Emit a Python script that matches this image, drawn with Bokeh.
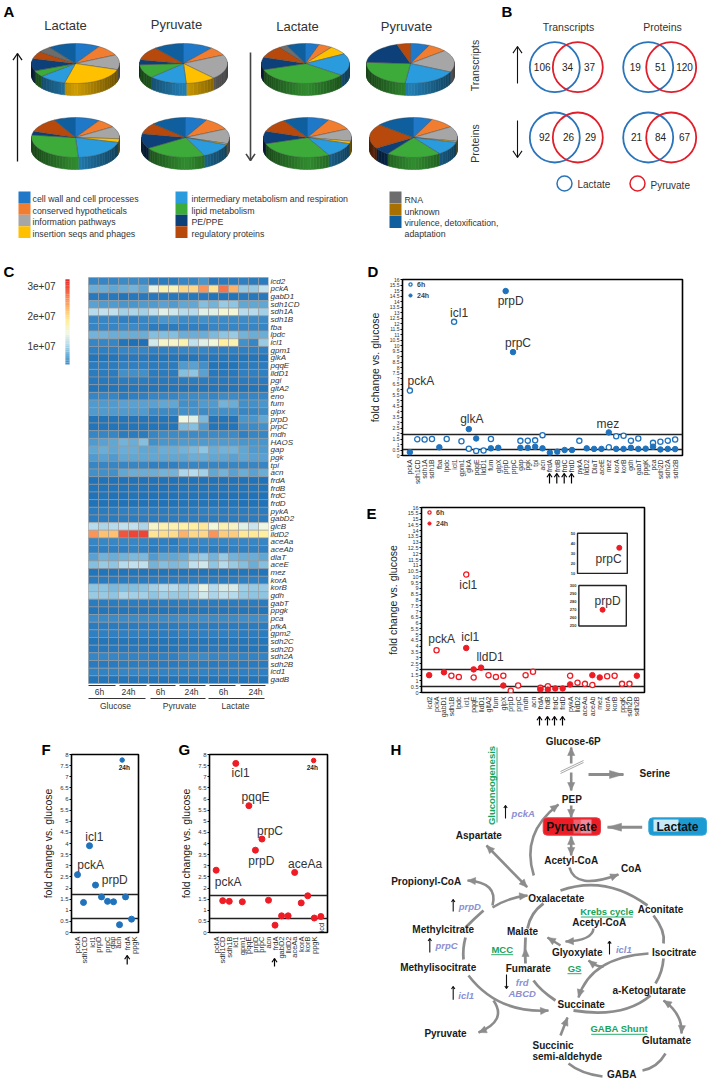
import numpy as np
from math import pi, sin, cos, atan2
from bokeh.plotting import figure
from bokeh.layouts import column, row
from bokeh.embed import file_html
from bokeh.resources import INLINE
from bokeh.core.properties import value
from bokeh.models import (Range1d, FactorRange, FixedTicker, NumeralTickFormatter, Legend, LegendItem,
                          LinearColorMapper, ColumnDataSource)

FONT = "Liberation Sans"

# ---------------------------------------------------------------- panel A data
pie_categories = ["cell wall and cell processes", "conserved hypotheticals", "information pathways",
                  "insertion seqs and phages", "intermediary metabolism and respiration", "lipid metabolism",
                  "PE/PPE", "regulatory proteins", "RNA", "unknown", "virulence, detoxification,"]
pie_colors = ["#1f78c8", "#f07d30", "#a6a6a6", "#ffc000", "#2a9bdc", "#3cab3a", "#0d3f78", "#b8490c", "#6d6d6d", "#a87000", "#0f5f9e"]
pie_lac_up_tr = [9, 9, 12, 24, 10, 5, 10, 6, 5, 0, 10]
pie_pyr_up_tr = [11, 7, 20, 11, 14, 11, 4, 11, 0, 0, 11]
pie_lac_dn_tr = [5, 5, 0, 7, 18, 35, 10, 10, 3, 0, 7]
pie_pyr_dn_tr = [7, 7, 18, 0, 20, 24, 19, 5, 0, 0, 0]
pie_lac_up_pr = [9, 7, 10, 3, 20, 28, 3, 12, 0, 0, 8]
pie_pyr_up_pr = [8, 10, 12, 1, 12, 23, 12, 9, 0, 0, 13]
pie_lac_dn_pr = [8, 10, 10, 2, 12, 28, 10, 11, 0, 0, 9]
pie_pyr_dn_pr = [7, 9, 12, 1, 11, 20, 6, 20, 0, 0, 14]

# ---------------------------------------------------------------- panel B data
venn_numbers = [["106", "34", "37"], ["19", "51", "120"], ["92", "26", "29"], ["21", "84", "67"]]

# ---------------------------------------------------------------- panel C data
heat_genes = ["icd2","pckA","gabD1","sdh1CD","sdh1A","sdh1B","fba","lpdc","icl1","gpm1","glkA","pqqE","lldD1","pgi","gltA2",
              "eno","fum","glpx","prpD","prpC","mdh","HAOS","gap","pgk","tpi","acn","frdA","frdB","frdC","frdD","pykA","gabD2",
              "glcB","lldD2","aceAa","aceAb","dlaT","aceE","mez","korA","korB","gdh","gabT","ppgk","pca","pfkA","gpm2","sdh2C",
              "sdh2D","sdh2A","sdh2B","icd1","gadB"]
heat_values = [
 [.3,.3,.3,.35,.35,.35,.2,.2,.2,.3,.3,.45,.15,.2,.2,.25,.2,.2],
 [.65,.65,.6,.65,.7,.6,1.35,1.7,1.65,2.0,2.0,2.5,1.9,2.7,2.3,.9,.9,1.1],
 [.15,.15,.15,.1,.15,.15,.15,.15,.15,.15,.15,.15,.1,.1,.1,.15,.15,.15],
 [.55,.5,.5,.45,.45,.5,.5,.55,.5,.6,.6,.8,.7,.9,.85,.6,.6,.6],
 [1.05,1.1,1.1,.95,1.0,.95,1.1,1.3,1.2,1.05,1.05,1.3,1.3,1.5,1.5,1.05,1.05,.95],
 [.3,.3,.3,.25,.25,.3,.35,.45,.45,.35,.35,.4,.35,.35,.35,.35,.35,.35],
 [.3,.3,.3,.35,.35,.3,.2,.2,.2,.25,.25,.25,.3,.3,.3,.3,.3,.3],
 [.7,.7,.65,.65,.65,.65,.8,.8,.8,.65,.65,.65,.75,.85,.9,.7,.65,.65],
 [.3,.3,.3,.1,.05,.05,1.2,1.55,1.55,1.7,1.1,1.3,1.45,1.8,1.7,.4,.3,.9],
 [.25,.25,.25,.3,.3,.3,.25,.25,.25,.3,.3,.3,.25,.25,.25,.25,.25,.25],
 [.1,.1,.1,.15,.15,.15,.1,.1,.1,.1,.1,.15,.12,.12,.12,.1,.1,.1],
 [.2,.2,.2,.25,.25,.25,.2,.2,.2,.5,.55,.4,.1,.1,.1,.2,.2,.2],
 [.2,.2,.2,.4,.4,.4,.2,.2,.2,.8,.85,.55,.15,.15,.15,.25,.25,.25],
 [.15,.15,.15,.2,.2,.2,.15,.15,.15,.2,.2,.2,.15,.15,.15,.18,.18,.18],
 [.1,.1,.1,.12,.12,.12,.1,.1,.1,.1,.1,.12,.1,.1,.1,.1,.1,.1],
 [.3,.3,.3,.2,.25,.25,.3,.3,.3,.35,.35,.35,.3,.35,.35,.3,.3,.3],
 [.5,.5,.5,.55,.55,.55,.55,.6,.6,.4,.4,.5,.5,.7,.65,.4,.4,.45],
 [.5,.5,.5,.5,.5,.5,.35,.35,.35,.4,.4,.35,.4,.4,.4,.3,.3,.35],
 [.1,.1,.1,.1,.1,.1,.1,.1,.1,1.4,1.3,.75,.1,.1,.1,.45,.45,.6],
 [.1,.1,.1,.1,.1,.1,.1,.1,.1,.75,.8,.5,.1,.1,.1,.35,.35,.4],
 [.3,.3,.3,.2,.2,.2,.3,.35,.35,.35,.35,.35,.35,.35,.35,.25,.3,.3],
 [.5,.55,.6,.7,.65,.8,.4,.45,.45,.5,.5,.5,.5,.5,.5,.45,.45,.45],
 [.6,.65,.6,.65,.65,.6,.6,.65,.65,.7,.75,.85,.65,.7,.7,.6,.5,.5],
 [.5,.55,.5,.6,.6,.6,.6,.6,.6,.6,.65,.65,.6,.6,.55,.6,.55,.55],
 [.3,.3,.3,.3,.3,.3,.25,.25,.25,.3,.3,.3,.3,.3,.3,.3,.3,.3],
 [.4,.4,.4,.6,.65,.65,.65,.7,.7,1.0,1.05,.95,.6,.7,.55,.65,.55,.65],
 [.08,.08,.08,.08,.08,.08,.08,.08,.08,.08,.08,.08,.08,.08,.08,.08,.08,.08],
 [.1,.1,.1,.1,.1,.1,.08,.08,.08,.1,.1,.1,.1,.1,.1,.1,.1,.1],
 [.08,.1,.08,.08,.1,.08,.08,.08,.08,.1,.1,.1,.08,.08,.08,.08,.08,.08],
 [.08,.08,.08,.08,.08,.08,.08,.08,.08,.1,.1,.1,.1,.1,.1,.08,.08,.08],
 [.2,.2,.2,.25,.25,.25,.2,.2,.2,.2,.2,.25,.25,.2,.2,.2,.2,.2],
 [.22,.22,.2,.22,.22,.22,.2,.2,.2,.22,.22,.22,.2,.2,.2,.2,.2,.2],
 [1.05,1.0,1.05,1.1,1.1,1.0,1.55,1.7,1.7,1.75,1.8,1.85,1.45,1.7,1.6,1.3,1.15,1.4],
 [2.5,2.2,2.2,2.9,3.0,3.0,1.9,1.95,1.95,2.3,2.0,2.0,2.5,2.1,2.1,1.85,1.85,1.8],
 [.3,.32,.32,.32,.32,.3,.25,.25,.2,.3,.3,.32,.3,.3,.3,.3,.3,.3],
 [.25,.25,.25,.25,.28,.25,.2,.25,.25,.25,.25,.25,.22,.22,.25,.25,.25,.25],
 [.55,.7,.65,.7,.75,.75,.5,.6,.6,.65,.85,.9,.7,.9,.7,.65,.65,.6],
 [.8,.9,.85,1.05,1.1,1.1,.7,.8,.75,.8,1.1,1.2,.85,1.05,.9,.8,.65,.8],
 [.1,.1,.1,.1,.12,.1,.1,.1,.1,.1,.1,.1,.1,.1,.1,.12,.12,.1],
 [.2,.2,.2,.2,.2,.2,.2,.2,.2,.22,.22,.22,.2,.2,.2,.25,.25,.25],
 [.85,.85,.75,.8,.8,.85,.95,1.05,1.05,.95,1.05,1.35,1.05,1.25,1.25,.95,.9,.9],
 [.9,.9,.85,1.0,.95,.95,.85,.95,.9,.9,1.0,1.2,1.0,1.1,1.05,.9,.85,.85],
 [.2,.2,.2,.22,.22,.2,.2,.2,.2,.22,.22,.22,.2,.2,.2,.2,.2,.2],
 [.12,.12,.12,.12,.12,.12,.1,.1,.1,.12,.12,.12,.12,.12,.12,.12,.12,.1],
 [.35,.35,.35,.35,.35,.35,.35,.35,.35,.38,.38,.38,.35,.35,.35,.38,.38,.38],
 [.2,.2,.2,.2,.2,.2,.2,.2,.2,.22,.22,.22,.2,.2,.2,.2,.2,.2],
 [.25,.25,.25,.25,.25,.25,.22,.22,.22,.25,.25,.25,.25,.25,.25,.22,.22,.22],
 [.12,.12,.12,.12,.12,.12,.1,.1,.1,.12,.12,.12,.12,.12,.12,.12,.12,.12],
 [.15,.15,.15,.15,.15,.15,.12,.12,.12,.15,.15,.15,.15,.15,.15,.12,.12,.12],
 [.3,.3,.3,.28,.28,.28,.25,.25,.25,.32,.35,.35,.3,.3,.3,.28,.28,.28],
 [.18,.18,.18,.22,.22,.22,.18,.18,.18,.2,.2,.2,.18,.18,.18,.18,.18,.18],
 [.28,.28,.28,.3,.3,.3,.28,.28,.28,.28,.28,.28,.25,.25,.25,.25,.25,.25],
 [.1,.1,.1,.12,.12,.12,.1,.1,.1,.12,.12,.12,.1,.1,.1,.1,.1,.1],
]
heat_anchor_vals = [0, .25, .5, .8, 1.1, 1.4, 1.8, 2.2, 2.6, 3.2]
heat_anchor_cols = ["#1a6db3", "#2f80c2", "#4f9bcf", "#84bfdf", "#bfe0ee", "#eef8e4", "#fff0a0", "#fdc272", "#f98650", "#e8262a"]
colorbar_ticks = ["3e+07", "2e+07", "1e+07"]

# ---------------------------------------------------------------- panel D data
d_genes = ["pckA","sdh1CD","sdh1A","sdh1B","fba","lpdc","icl1","gpm1","glkA","pqqE","lldD1","fum","glpX","prpD","prpC","gap","pgk",
           "tpi","acn","frdA","frdB","frdC","frdD","pykA","lldD2","DlaT","aceE","mez","korA","korB","gdh","gabT","ppgK","pca",
           "sdh2D","sdh2A","sdh2B"]
d_6h_names = ["pckA","sdh1CD","sdh1A","sdh1B","lpdc","icl1","gpm1","glkA","pqqE","lldD1","fum","gap","pgk","tpi","acn","pykA","mez",
              "korA","korB","gdh","gabT","pca","sdh2D","sdh2A","sdh2B"]
d_6h_vals = [5.9,1.48,1.45,1.5,1.5,12.15,1.3,.62,.42,.45,1.5,1.33,1.35,1.38,1.85,1.33,.75,1.75,1.8,1.35,1.55,1.15,1.25,1.35,1.45]
d_24h_names = ["pckA","fba","glkA","pqqE","fum","glpX","prpD","prpC","gap","pgk","tpi","acn","frdA","frdB","frdC","frdD","lldD2","DlaT",
               "aceE","mez","korA","korB","gdh","gabT","ppgK","pca","sdh2D","sdh2A","sdh2B"]
d_24h_vals = [.3,.75,2.4,1.55,.65,.7,14.95,9.4,.7,.7,.8,.65,.25,.35,.5,.5,.65,.6,.6,2.1,.6,.6,.7,.6,.62,.8,.55,.6,.58]
d_lines = [1.95, .55]
d_note_names = ["pckA","icl1","prpD","prpC","glkA","mez"]
d_note_y = [6.8,13.0,14.05,10.25,3.3,2.87]

# ---------------------------------------------------------------- panel E data
e_genes = ["icd2","pckA","gabD1","sdh1B","lpdc","icl1","pqqE","lldD1","gltA2","fum","glpX","prpD","prpC","mdh","acn","frdA","frdB",
           "frdC","frdD","pykA","lldD2","aceAa","aceAb","mez","korA","korB","ppgK","sdh2D","sdh2B"]
e_6h_names = ["pckA","sdh1B","lpdc","icl1","pqqE","gltA2","fum","glpX","prpD","prpC","mdh","acn","frdA","frdB","pykA","lldD2","aceAa",
              "aceAb","korA","korB","ppgK","sdh2D"]
e_6h_vals = [3.65,1.45,1.35,10.2,1.3,1.5,1.35,1.45,.15,.6,1.5,1.8,.4,.55,1.45,.85,.75,.65,1.4,1.45,.75,.75]
e_24h_names = ["icd2","gabD1","icl1","pqqE","lldD1","glpX","frdA","frdB","frdC","frdD","pykA","aceAb","mez","sdh2B"]
e_24h_vals = [1.5,1.75,3.85,2.0,2.15,.6,.25,.25,.35,.35,.7,1.5,1.3,1.45]
e_lines = [2.0, .55]
e_prpC_ticks = [50,40,30,20,10]
e_prpD_ticks = [300,290,280,270,260,250]
e_prpC_val = 35.5
e_prpD_val = 270

# ---------------------------------------------------------------- panel F data
f_ticks_labels = ["pckA","sdh1CD","icl1","prpD","prpC","gap","acn","frdA","ppgK"]
f_vals = [2.6,1.35,3.9,2.13,1.6,1.4,1.38,.35,1.6,.6]
f_lines = [1.69,.62]

# ---------------------------------------------------------------- panel G data
g_genes = ["pckA","sdh1CD","sdh1B","icl1","gpm1","pqqE","prpD","prpC","acn","frdA","gabD2","lldD2","aceAa","korA","korB","ppgK"," "]
g_vals = [2.8,1.43,1.4,7.6,1.38,5.7,3.7,4.2,1.45,.33,.75,.75,2.7,1.33,1.65,.65,.72]
g_lines = [1.65,.63]


def lum(hexcol, f):
    r, g, b = int(hexcol[1:3], 16), int(hexcol[3:5], 16), int(hexcol[5:7], 16)
    return "#%02x%02x%02x" % (int(r * f), int(g * f), int(b * f))


def put(p, x, y, t, size="9px", color="#222222", style="normal", align="center", angle=0.0, **kw):
    p.text(x=[x], y=[y], text=[t], text_font=value(FONT), text_font_size=size, text_color=color,
           text_font_style=style, text_align=align, text_baseline="middle", angle=angle, **kw)


def blank(w, h, x0, x1, y0, y1):
    p = figure(width=w, height=h, x_range=Range1d(x0, x1), y_range=Range1d(y0, y1), output_backend="svg",
               toolbar_location=None, min_border=0, x_axis_location=None, y_axis_location=None,
               background_fill_color="white", border_fill_color="white")
    p.grid.visible = False
    p.outline_line_color = None
    return p


def open_arrow(p, x0, y0, x1, y1, w=1.3, color="#111111", head=4.5):
    a = atan2(y1 - y0, x1 - x0)
    p.line([x0, x1], [y0, y1], line_color=color, line_width=w)
    p.line([x1 - head * cos(a - .6), x1, x1 - head * cos(a + .6)],
           [y1 - head * sin(a - .6), y1, y1 - head * sin(a + .6)], line_color=color, line_width=w)


# ---------------------------------------------------------------- top figure : A + B
top = blank(709, 255, 0, 709, 255, 0)
put(top, 3, 11, "A", "15px", "black", "bold", "left")
put(top, 501, 11, "B", "15px", "black", "bold", "left")
for x, y, t in [(65, 25, "Lactate"), (176, 24, "Pyruvate"), (297, 26, "Lactate"), (406, 26, "Pyruvate")]:
    put(top, x, y, t, "13px", "#333333")


def pie(p, cx, cy, vals, rx=44, ry=20, depth=12):
    vals = np.array(vals, float)
    fracs = vals / vals.sum()
    a0 = 0.0
    xs, ys, cols, sx, sy, sc = [], [], [], [], [], []
    for f, c in zip(fracs, pie_colors):
        if f == 0:
            continue
        a1 = a0 + f * 2 * pi
        arc = np.linspace(a0, a1, max(3, int(f * 90)))
        xs.append([cx] + list(cx + rx * np.sin(arc)))
        ys.append([cy] + list(cy - ry * np.cos(arc)))
        cols.append(c)
        for u, v in zip(arc[:-1], arc[1:]):
            if cos(u) < 0.02 or cos(v) < 0.02:
                u2, v2 = cx + rx * sin(u), cx + rx * sin(v)
                w2, z2 = cy - ry * cos(u), cy - ry * cos(v)
                sx.append([u2, v2, v2, u2])
                sy.append([w2, z2, z2 + depth, w2 + depth])
                t = abs(sin((u + v) / 2))
                sc.append(lum(c, 0.82 - 0.42 * t))
        a0 = a1
    p.patches(sx, sy, fill_color=sc, line_color=sc, line_width=.6)
    p.patches(xs, ys, fill_color=cols, line_color="#404040", line_width=.4)


for cx, cy, v in [(75, 63, pie_lac_up_tr), (183, 63, pie_pyr_up_tr), (305, 63, pie_lac_dn_tr), (410, 63, pie_pyr_dn_tr),
                  (75, 137, pie_lac_up_pr), (185, 137, pie_pyr_up_pr), (307, 137, pie_lac_dn_pr), (413, 137, pie_pyr_dn_pr)]:
    pie(top, cx, cy, v)

open_arrow(top, 17, 161, 17, 53, 1.3, "#111111", 8)
open_arrow(top, 250, 52, 250, 160, 1.6, "#444444", 8)

box_y = [197, 208.6, 220.2, 231.8]
for col, (bx, tx) in enumerate([(18, 32), (175, 191)]):
    for i in range(4):
        k = col * 4 + i
        top.quad(left=[bx], right=[bx + 12], top=[box_y[i] - 6], bottom=[box_y[i] + 5.6], fill_color=pie_colors[k], line_color=None)
        put(top, tx, box_y[i] + 1.5, pie_categories[k], "8.8px", "#333333", align="left")
for i, k in enumerate([8, 9, 10]):
    top.quad(left=[389], right=[401], top=[196 + i * 12.2 - 6 + 1], bottom=[196 + i * 12.2 + 6 + 1], fill_color=pie_colors[k], line_color=None)
for y, t in [(199.5, "RNA"), (211, "unknown"), (222, "virulence, detoxification,"), (233, "adaptation")]:
    put(top, 404, y, t, "8.8px", "#333333", align="left")

put(top, 568, 26, "Transcripts", "10.5px", "#333333")
put(top, 662, 26, "Proteins", "10.5px", "#333333")
put(top, 474, 65, "Transcripts", "10.5px", "#333333", angle=pi / 2)
put(top, 474, 143, "Proteins", "10.5px", "#333333", angle=pi / 2)
BLUE, RED = "#2a74bb", "#e01f2b"
venn_x = [(554.3, 577.3), (647.7, 670.7), (554.3, 577.3), (647.7, 670.7)]
venn_y = [66.7, 66.7, 137, 137]
venn_tx = [(541.7, 567, 589), (634.7, 660, 684), (544, 568, 590), (636, 660, 684)]
for (bx, rx), vy, nums, tx in zip(venn_x, venn_y, venn_numbers, venn_tx):
    top.ellipse(x=[bx], y=[vy], width=50, height=50, fill_color=None, line_color=BLUE, line_width=1.8)
    top.ellipse(x=[rx], y=[vy], width=50, height=50, fill_color=None, line_color=RED, line_width=1.8)
    for n, x in zip(nums, tx):
        put(top, x, vy - .5, n, "10px", "#222222")
open_arrow(top, 517, 83, 517, 46, 1.1, "#111111", 8)
open_arrow(top, 517, 120, 517, 157, 1.1, "#111111", 8)
top.ellipse(x=[564], y=[183], width=15, height=15, fill_color=None, line_color=BLUE, line_width=1.5)
top.ellipse(x=[637], y=[183], width=15, height=15, fill_color=None, line_color=RED, line_width=1.5)
put(top, 577, 184, "Lactate", "10px", "#333333", align="left")
put(top, 650, 184.5, "Pyruvate", "10px", "#333333", align="left")

# ---------------------------------------------------------------- C : heat map
ROW = 7.66
hx = lambda px: (px - 88) / 10.0
hy = lambda py: 53 - (py - 277) / ROW
cv = lambda py: 1 + (345 - py) / 30.0
c = figure(width=362, height=475, x_range=Range1d(hx(0), hx(268)), y_range=Range1d(hy(730), hy(255)), output_backend="svg",
           toolbar_location=None, min_border=0, min_border_right=94, x_axis_location=None, y_axis_location="right",
           background_fill_color="white", border_fill_color="white")
c.grid.visible = False
c.outline_line_color = None
c.extra_y_ranges = {"cb": Range1d(cv(730), cv(255))}
palette = []
grid = np.linspace(0, 3.2, 256)
av = np.array(heat_anchor_vals)
rgb = np.array([[int(h[i:i + 2], 16) for i in (1, 3, 5)] for h in heat_anchor_cols], float)
for g in grid:
    palette.append("#%02x%02x%02x" % tuple(int(round(np.interp(g, av, rgb[:, j]))) for j in range(3)))
mapper = LinearColorMapper(palette=palette, low=0, high=3.2)
xs_, ys_, vs_ = [], [], []
n = len(heat_genes)
for i, r in enumerate(heat_values):
    for j, v in enumerate(r):
        xs_.append(j + .5)
        ys_.append(n - i - .5)
        vs_.append(v)
c.rect(x="x", y="y", width=1, height=1, source=ColumnDataSource(dict(x=xs_, y=ys_, v=vs_)),
       fill_color={"field": "v", "transform": mapper}, line_color="#9a9a9a", line_width=.6)
ax = c.yaxis[0]
ticks = [n - i - .5 for i in range(n)]
ax.ticker = FixedTicker(ticks=ticks)
ax.major_label_overrides = {t: g for t, g in zip(ticks, heat_genes)}
ax.major_label_text_font = FONT
ax.major_label_text_font_style = "italic"
ax.major_label_text_font_size = "8px"
ax.major_label_text_color = "#333333"
ax.axis_line_color = None
ax.major_tick_line_color = None
ax.major_tick_out = 0
ax.major_tick_in = 0
ax.minor_tick_line_color = None
ax.major_label_standoff = 2
cb_vals = np.linspace(.4, 3.17, 40)
c.rect(x=[hx(67)] * len(cb_vals), y=cb_vals, width=.42, height=(cb_vals[1] - cb_vals[0]) * 1.05, y_range_name="cb",
       fill_color={"field": "y", "transform": mapper}, line_color=None)
for i, t in enumerate(colorbar_ticks):
    c.text(x=[hx(55)], y=[3 - i], text=[t], y_range_name="cb", text_font=value(FONT), text_font_size="10px", text_color="#333333",
           text_align="right", text_baseline="middle")
put(c, hx(3), hy(271), "C", "15px", "black", "bold", "left")
for a, b, t, tx in [(88, 115, "6h", 99), (119, 146, "24h", 128), (149, 175, "6h", 160), (179, 205, "24h", 191), (209, 235, "6h", 223), (240, 265, "24h", 255)]:
    c.line([hx(a), hx(b)], [hy(685)] * 2, line_color="#333333", line_width=1.2)
    put(c, hx(tx), hy(691.5), t, "8.5px", "#333333")
for a, b, t, tx in [(88, 145, "Glucose", 115), (150, 205, "Pyruvate", 179), (208, 264, "Lactate", 235)]:
    c.line([hx(a), hx(b)], [hy(698)] * 2, line_color="#333333", line_width=1.2)
    put(c, hx(tx), hy(705), t, "8.5px", "#333333")


# ---------------------------------------------------------------- dot panels
def dot_fig(w, h, left, right, top_, bottom, x_range, ymax, tick_font, xfont, lab_off=6):
    p = figure(width=w, height=h, x_range=x_range, y_range=Range1d(0, ymax), output_backend="svg", toolbar_location=None,
               min_border_left=left, min_border_right=right, min_border_top=top_, min_border_bottom=bottom,
               background_fill_color="white", border_fill_color="white")
    p.grid.visible = False
    p.outline_line_color = "black"
    p.outline_line_width = 1.6
    y = p.yaxis[0]
    y.ticker = FixedTicker(ticks=list(np.arange(0, ymax + .1, .5)))
    y.formatter = NumeralTickFormatter(format="0.[0]")
    y.major_label_text_font = FONT
    y.major_label_text_font_size = tick_font
    y.major_label_text_color = "#333333"
    y.major_tick_out = 2
    y.major_tick_in = 0
    y.major_label_standoff = 1
    y.minor_tick_line_color = None
    y.axis_label = "fold change vs. glucose"
    y.axis_label_text_font = FONT
    y.axis_label_text_font_size = "10.5px"
    y.axis_label_text_font_style = "normal"
    y.axis_label_text_color = "#222222"
    y.axis_label_standoff = lab_off
    x = p.xaxis[0]
    x.major_label_orientation = pi / 2
    x.major_label_text_font = FONT
    x.major_label_text_font_size = xfont
    x.major_label_text_color = "#333333"
    x.major_tick_line_color = None
    x.major_tick_out = 0
    x.major_tick_in = 0
    x.minor_tick_line_color = None
    x.axis_line_color = None
    x.major_label_standoff = 4
    return p


def dot_legend(p, r1, r2):
    p.add_layout(Legend(items=[LegendItem(label="6h", renderers=[r1]), LegendItem(label="24h", renderers=[r2])], location="top_left",
                        border_line_color=None, background_fill_alpha=0, label_text_font=FONT, label_text_font_size="7px",
                        label_text_font_style="bold", padding=1, spacing=3, glyph_width=14, glyph_height=8, label_height=8,
                        label_standoff=0, margin=1))


C_BLUE, C_RED = "#1f72bc", "#ee1c25"

# D
d = dot_fig(347, 242, 40, 27, 24, 42, FactorRange(factors=d_genes, range_padding=.5, range_padding_units="absolute"), 16, "5px", "6.8px")
d.hspan(y=d_lines, line_color="#222222", line_width=1.5)
r1 = d.scatter(d_6h_names, d_6h_vals, marker="circle", size=5.2, fill_color="white", line_color=C_BLUE, line_width=1.3)
r2 = d.scatter(d_24h_names, d_24h_vals, marker="circle", size=5.5, fill_color=C_BLUE, line_color=C_BLUE)
dot_legend(d, r1, r2)
d.text(x=d_note_names, y=d_note_y, text=d_note_names, x_offset=[11, 5, 5, 5, 3, -1], text_font=value(FONT), text_font_size="12px",
       text_color="#333333", text_align="center", text_baseline="middle")

# E
e = dot_fig(347, 231, 59, 65, 10, 36, FactorRange(factors=e_genes, range_padding=.53, range_padding_units="absolute"), 16, "5.5px", "7px")
ex = lambda zx: (zx - 176) / 22.2 + .5
ezy = lambda zy, z0, v0, k: v0 + (z0 - zy) / k
e.extra_y_ranges = {"prpC": Range1d(ezy(575, 219, 10, 3.0), ezy(22, 219, 10, 3.0)), "prpD": Range1d(ezy(575, 376, 250, 2.42), ezy(22, 376, 250, 2.42))}
e.hspan(y=e_lines, line_color="#222222", line_width=1.5)
r1 = e.scatter(e_6h_names, e_6h_vals, marker="circle", size=5.2, fill_color="white", line_color=C_RED, line_width=1.3)
r2 = e.scatter(e_24h_names, e_24h_vals, marker="circle", size=5.5, fill_color=C_RED, line_color=C_RED)
dot_legend(e, r1, r2)
for name, y, off in [("pckA", 4.6, 5), ("icl1", 9.3, 2), ("icl1", 4.77, 4), ("lldD1", 3.04, 9)]:
    e.text(x=[name], y=[y], text=[name], x_offset=off, text_font=value(FONT), text_font_size="12px", text_color="#333333",
           text_align="center", text_baseline="middle")
for rng, lo, hi, zl, zr, ticks_, val, zpt, lab, zlab, zy in [
        ("prpC", 10, 50, 620, 769, e_prpC_ticks, e_prpC_val, 745, "prpC", 713, ezy(175, 219, 10, 3.0)),
        ("prpD", 250, 300, 624, 766, e_prpD_ticks, e_prpD_val, 695, "prpD", 710, ezy(300, 376, 250, 2.42))]:
    e.quad(left=[ex(zl)], right=[ex(zr)], bottom=[lo], top=[hi], y_range_name=rng, fill_color="white", line_color="#222222", line_width=1.4)
    e.scatter(x=[ex(zpt)], y=[val], y_range_name=rng, marker="circle", size=5, fill_color=C_RED, line_color=C_RED)
    e.text(x=[ex(zlab)], y=[zy], text=[lab], y_range_name=rng, text_font=value(FONT), text_font_size="12px", text_color="#333333",
           text_align="center", text_baseline="middle")
    e.text(x=[ex(zl - 7)] * len(ticks_), y=ticks_, text=[str(t) for t in ticks_], y_range_name=rng, text_font=value(FONT), text_font_size="4px",
           text_font_style="bold", text_color="#333333", text_align="right", text_baseline="middle")

# F
f = dot_fig(170, 351, 71, 32, 24, 149, Range1d(-1, 10.16), 8, "6px", "7.5px", 3)
f_label_pos = [0, 1.16, 2.5, 3.5, 5, 5.8, 6.8, 8.3, 9.5]
f.xaxis[0].ticker = FixedTicker(ticks=f_label_pos)
f.xaxis[0].major_label_overrides = {t: g for t, g in zip(f_label_pos, f_ticks_labels)}
f.hspan(y=f_lines, line_color="#222222", line_width=1.5)
f.scatter(x=list(range(len(f_vals))), y=f_vals, marker="circle", size=6, fill_color=C_BLUE, line_color=C_BLUE)
for x, y, t in [(2.2, 3.05, "pckA"), (2.8, 4.3, "icl1"), (6.2, 2.35, "prpD")]:
    put(f, x, y, t, "12px", "#333333")
f.scatter(x=[7.44], y=[7.75], marker="circle", size=4.5, fill_color=C_BLUE, line_color=C_BLUE)
put(f, 7.8, 7.42, "24h", "6.5px", "#222222", "bold")

# G
g_ = dot_fig(192, 351, 39, 35, 24, 149, FactorRange(factors=g_genes, range_padding=.52, range_padding_units="absolute"), 8, "6px", "7.5px", 3)
g_.hspan(y=g_lines, line_color="#222222", line_width=1.5)
g_.scatter(x=g_genes, y=g_vals, marker="circle", size=6, fill_color=C_RED, line_color=C_RED)
for x, y, t in [(2.34, 2.28, "pckA"), (4.23, 7.18, "icl1"), (6.53, 6.11, "pqqE"), (8.73, 4.58, "prpC"), (7.4, 3.23, "prpD"), (14.1, 3.08, "aceAa")]:
    put(g_, x, y, t, "12px", "#333333")
put(g_, 16.6, .22, "icd", "7.5px", "#333333", angle=pi / 2)
g_.scatter(x=[15.4], y=[7.73], marker="circle", size=4.5, fill_color=C_RED, line_color=C_RED)
put(g_, 15.2, 7.4, "24h", "6.5px", "#222222", "bold")

# ---------------------------------------------------------------- H : pathway
h = blank(347, 353, 362, 709, 1081, 728)
GRAY = "#8c8c8c"


def head(p, cx, cy, x1, y1, L=8, W=3.6):
    a = atan2(y1 - cy, x1 - cx)
    bx, by = x1 - L * cos(a), y1 - L * sin(a)
    p.patch([x1, bx - W * sin(a), bx + W * sin(a)], [y1, by + W * cos(a), by - W * cos(a)], fill_color=GRAY, line_color=GRAY, line_width=.5)


def gray(p, x0, y0, cx=None, cy=None, x1=None, y1=None, ends=(False, True), w=2.6, L=8, W=3.6):
    if cx is None:
        p.line([x0, x1], [y0, y1], line_color=GRAY, line_width=w)
        cx, cy = (x0 + x1) / 2, (y0 + y1) / 2
    else:
        p.quadratic(x0=[x0], y0=[y0], x1=[x1], y1=[y1], cx=[cx], cy=[cy], line_color=GRAY, line_width=w)
    if ends[1]:
        head(p, cx, cy, x1, y1, L, W)
    if ends[0]:
        head(p, cx, cy, x0, y0, L, W)


gray(h, 570.7, 763, None, None, 570.7, 747)
gray(h, 570.7, 772, None, None, 570.7, 790)
gray(h, 570.7, 805, None, None, 570.7, 817)
gray(h, 588, 774, None, None, 623, 774, w=3, L=14, W=4)
gray(h, 641.7, 826.7, None, None, 607, 826.7, w=3, L=14, W=4)
gray(h, 570.7, 836, None, None, 570.7, 855, ends=(True, True))
h.line([560, 583], [773, 762], line_color="#909090", line_width=.8)
h.line([560, 583], [771, 760], line_color="#909090", line_width=.8)
gray(h, 533.3, 875, 520, 833, 558, 804)
gray(h, 486, 845, None, None, 526.7, 886.7, ends=(True, True))
gray(h, 569, 867, 575, 890, 618, 874)
gray(h, 560, 890, 605, 874, 647, 905, ends=(False, False), w=2.8)
gray(h, 653, 915, 665, 930, 663, 943, ends=(False, False), w=2.8)
gray(h, 663, 958, 662, 972, 655, 983, ends=(False, False), w=2.8)
gray(h, 650, 995, 623, 1018, 573, 1010, ends=(False, False), w=2.8)
gray(h, 555, 1000, 540, 990, 533, 980, ends=(False, False), w=2.8)
gray(h, 525, 963, 524, 950, 525, 937, ends=(False, False), w=2.8)
head(h, 525, 958, 525, 948)
gray(h, 527, 928, 530, 912, 543, 903, ends=(False, False), w=2.8)
gray(h, 492, 907, 508, 897, 527, 895)
gray(h, 492, 905, 498, 882, 467, 880)
gray(h, 483, 910, 474, 918, 465, 927, ends=(False, False), w=2.8)
gray(h, 465, 937, 462, 948, 463, 959, ends=(False, False), w=2.8)
gray(h, 468, 975, 497, 1013, 548, 1010)
gray(h, 493, 1000, 507, 1020, 478, 1032)
gray(h, 648, 953, 590, 957, 578, 997)
gray(h, 603, 966, 597, 967, 588, 960)
gray(h, 593, 928, 592, 940, 565, 941)
gray(h, 560, 945, None, None, 547, 937)
gray(h, 560, 1035, None, None, 567, 1017)
gray(h, 663, 1000, 682, 1013, 681, 1033, ends=(True, True))
gray(h, 665, 1053, 657, 1067, 642, 1070, ends=(False, False))
gray(h, 602, 1076, 580, 1073, 568, 1063, ends=(False, False))

# boxes
h.quad(left=[542.7], right=[600], top=[817.3], bottom=[834.7], fill_color="#ee1c25", line_color="#e0404a", border_radius=4)
h.quad(left=[573], right=[580], top=[819], bottom=[833], fill_color="#f0606c", line_color=None)
h.quad(left=[580], right=[591], top=[819], bottom=[833], fill_color="#f28a9c", line_color=None)
h.quad(left=[648.3], right=[706], top=[817.3], bottom=[834.7], fill_color="#1c9ad2", line_color="#3aa8d8", border_radius=4)
h.quad(left=[653], right=[678], top=[819], bottom=[831], fill_color="#c8e9f6", line_color=None)
put(h, 571, 826, "Pyruvate", "12px", "#111111", "bold")
put(h, 677, 826, "Lactate", "12px", "#111111", "bold")

labels = [(572.7, 740.7, "Glucose-6P"), (654.3, 773.3, "Serine"), (571.3, 799.3, "PEP"), (478.3, 835, "Aspartate"), (570.7, 860, "Acetyl-CoA"),
          (630.7, 868.3, "CoA"), (425.7, 881, "Propionyl-CoA"), (555.7, 897.7, "Oxalacetate"), (660, 909, "Aconitate"), (598.7, 921.7, "Acetyl-CoA"),
          (442.7, 929.3, "Methylcitrate"), (522, 931.3, "Malate"), (576.7, 952.3, "Glyoxylate"), (673.7, 952, "Isocitrate"),
          (437.7, 966.7, "Methylisocitrate"), (527.7, 967.7, "Fumarate"), (648.7, 990, "a-Ketoglutarate"), (580.7, 1004, "Succinate"),
          (666, 1040.3, "Glutamate"), (445, 1033, "Pyruvate"), (621.3, 1073.7, "GABA")]
for x, y, t in labels:
    put(h, x, y, t, "10px", "#1a1a1a", "bold")
put(h, 532, 1044.7, "Succinic", "10px", "#1a1a1a", "bold", "left")
put(h, 532, 1055.7, "semi-aldehyde", "10px", "#1a1a1a", "bold", "left")
GREEN = "#17a35c"
for x, y, t, hw in [(606.3, 911, "Krebs cycle", 26), (501.7, 948.7, "MCC", 11), (574, 967.7, "GS", 7), (618.7, 1028.3, "GABA Shunt", 28)]:
    put(h, x, y, t, "9.5px", GREEN, "bold")
    h.line([x - hw, x + hw], [y + 5.5, y + 5.5], line_color=GREEN, line_width=.9)
put(h, 490.7, 785, "Gluconeogenesis", "9.5px", GREEN, "bold", angle=pi / 2)
h.line([496.5, 496.5], [822, 747], line_color=GREEN, line_width=.9)
PURPLE = "#8a8fd2"
for x, y, t in [(522.7, 813.3, "pckA"), (469.3, 906, "prpD"), (446, 945.3, "prpC"), (465.7, 995, "icl1"), (521.7, 982, "frd"), (521.7, 992.7, "ABCD"), (623.3, 949.3, "icl1")]:
    put(h, x, y, t, "9.5px", PURPLE, "bold italic")
for x, y0, y1 in [(505, 818, 805), (452.7, 911, 899), (429.3, 952, 938), (452.7, 999.3, 986), (506, 974, 988), (609, 954, 940.7)]:
    open_arrow(h, x, y0, x, y1, 1.1, "#111111", 3)
put(h, 390, 749, "H", "15px", "black", "bold", "left")

# ---------------------------------------------------------------- overlay: panel letters and marks that sit outside the axes
ov = figure(width=709, height=1081, x_range=Range1d(0, 709), y_range=Range1d(1081, 0), output_backend="svg", toolbar_location=None,
            min_border=0, x_axis_location=None, y_axis_location=None, background_fill_alpha=0, border_fill_alpha=0,
            styles={"position": "absolute", "left": "0px", "top": "0px", "pointer-events": "none"})
ov.grid.visible = False
ov.outline_line_color = None
for x, y, t in [(367, 271, "D"), (366, 513, "E"), (41, 749, "F"), (178, 749, "G")]:
    put(ov, x, y, t, "15px", "black", "bold", "left")
for x in [549, 556.3, 563.7, 571]:
    open_arrow(ov, x, 483, x, 473, 1.2, "black", 4.5)
for x in [539, 547, 554, 562]:
    open_arrow(ov, x, 725, x, 716, 1.2, "black", 4.5)
open_arrow(ov, 126.7, 964, 126.7, 955, 1.2, "black", 4.5)
open_arrow(ov, 274, 966, 274, 958, 1.2, "black", 4.5)

left_col = column(row(c), row(column(f), column(g_), spacing=0), spacing=0)
right_col = column(row(d), row(e), row(h), spacing=0)
root = column(top, row(left_col, right_col, spacing=0), ov, spacing=0)

open("out.html", "w").write(file_html(root, INLINE))
